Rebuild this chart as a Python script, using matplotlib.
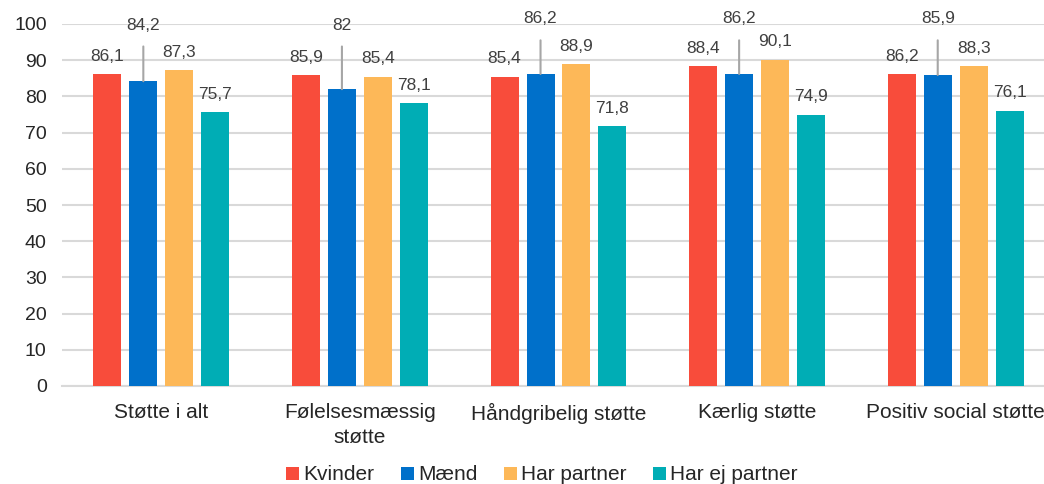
import matplotlib
matplotlib.use("Agg")
import matplotlib.pyplot as plt
import numpy as np

categories = ["Støtte i alt", "Følelsesmæssig\nstøtte", "Håndgribelig støtte", "Kærlig støtte", "Positiv social støtte"]
series_names = ["Kvinder", "Mænd", "Har partner", "Har ej partner"]
kvinder = [86.1, 85.9, 85.4, 88.4, 86.2]
maend = [84.2, 82.0, 86.2, 86.2, 85.9]
har_partner = [87.3, 85.4, 88.9, 90.1, 88.3]
har_ej_partner = [75.7, 78.1, 71.8, 74.9, 76.1]
yticks = [0, 10, 20, 30, 40, 50, 60, 70, 80, 90, 100]

colors = ["#F84C3B", "#0070CA", "#FDB858", "#00ADB5"]
plt.rcParams['font.family'] = ['Liberation Sans', 'DejaVu Sans']

fig = plt.figure(figsize=(10.44, 4.84), dpi=100)
W, H = 1044, 484
left, right, top, bottom = 62, 1055, 24, 386
ax = fig.add_axes([left / W, 1 - bottom / H, (right - left) / W, (bottom - top) / H])

x = np.arange(len(categories))
step = 0.181
width = 0.141
all_series = [kvinder, maend, har_partner, har_ej_partner]

def fmt(v):
    s = f"{v:.1f}".replace(".", ",")
    if s.endswith(",0"):
        s = s[:-2]
    return s

for i, (vals, c, name) in enumerate(zip(all_series, colors, series_names)):
    pos = x + (i - 1.5) * step
    ax.bar(pos, vals, width=width, color=c, label=name, zorder=3)
    for p, v in zip(pos, vals):
        if i == 1:
            continue
        ax.annotate(fmt(v), (p, v), xytext=(0, 7.5), textcoords="offset points",
                    ha="center", va="bottom", fontsize=12.5, color="#404040", zorder=4)

# Mænd labels placed above with leader lines
label_y = [99.7, 99.7, 101.4, 101.4, 101.4]
pos = x - 0.5 * step
for p, v, ly in zip(pos, maend, label_y):
    ax.annotate(fmt(v), (p, v), xytext=(p, ly), textcoords="data",
                ha="center", va="center", fontsize=12.5, color="#404040", zorder=4,
                annotation_clip=False,
                arrowprops=dict(arrowstyle="-", color="#A6A6A6", lw=1.5,
                                shrinkA=8, shrinkB=0))

ax.set_xlim(-0.5, len(categories) - 0.5)
ax.set_ylim(0, 100)
ax.set_yticks(yticks)
ax.set_yticklabels([str(t) for t in yticks], fontsize=14, color="#262626")
ax.set_xticks(x)
ax.set_xticklabels(categories, fontsize=15, color="#262626", linespacing=1.45)
ax.tick_params(axis="both", length=0)
ax.tick_params(axis="y", pad=11)
ax.tick_params(axis="x", pad=12)
ax.grid(axis="y", color="#D9D9D9", lw=1.5, zorder=0)
for s in ["top", "right", "left"]:
    ax.spines[s].set_visible(False)
ax.spines["bottom"].set_color("#D9D9D9")
ax.spines["bottom"].set_linewidth(1.5)

leg = fig.legend(loc="center", bbox_to_anchor=(542 / W, 1 - 475 / H), ncol=4,
                 frameon=False, fontsize=15, handlelength=0.6, handleheight=0.6,
                 handletextpad=0.2, columnspacing=1.3)
for t in leg.get_texts():
    t.set_color("#262626")

fig.savefig("out.png", dpi=100)
